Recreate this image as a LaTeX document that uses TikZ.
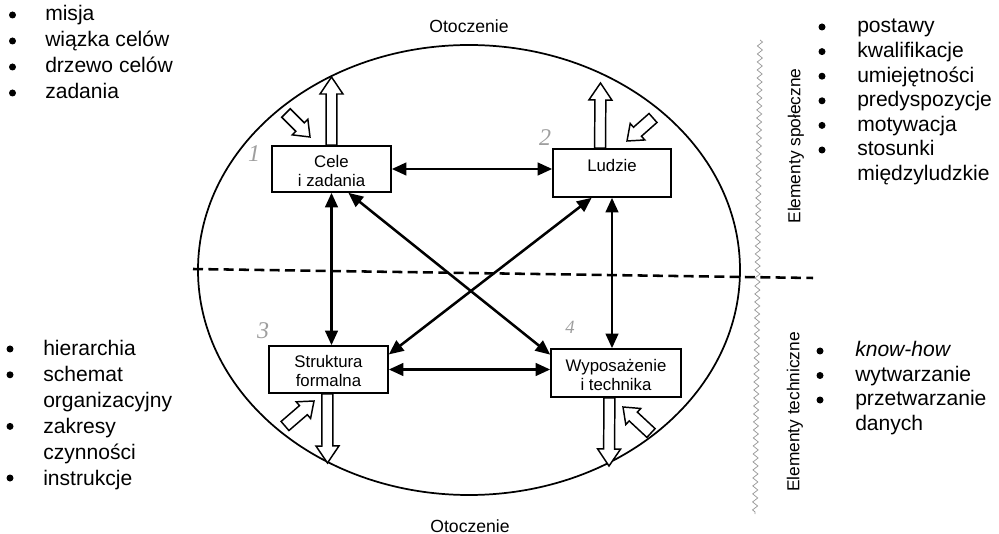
\documentclass[tikz,border=0pt]{standalone}
\usepackage{fontspec}
\setmainfont{Liberation Sans}
\newfontfamily\handfont{Liberation Serif}
\usetikzlibrary{arrows.meta,calc,decorations.pathmorphing}

% raises the first line of a box label a little
\newcommand\topstrut{\rule{0pt}{12pt}}

\tikzset{
  box/.style={draw, line width=1.2pt, inner sep=0pt, align=center,
    font=\fontsize{12.6}{14.3}\selectfont},
  link/.style={line width=1.9pt,
    {Triangle[length=11pt,width=9.5pt]}-{Triangle[length=11pt,width=9.5pt]}},
  blockarr/.style={draw, line width=1.1pt, fill=white, line join=miter},
  item/.style={anchor=base west, inner sep=0pt, font=\fontsize{15.8}{19}\selectfont},
  side/.style={rotate=90, inner sep=0pt, font=\fontsize{13}{15}\selectfont},
  env/.style={anchor=base, inner sep=0pt, font=\fontsize{13.2}{15}\selectfont},
  hand/.style={text=black!38, inner sep=0pt, font=\handfont\itshape\fontsize{18}{18}\selectfont},
  divider/.style={line width=1.9pt, dash pattern=on 7.5pt off 4pt},
  border/.style={black!40, line width=0.55pt, decorate,
    decoration={zigzag, segment length=6pt, amplitude=1.9pt}}
}

% hollow block arrow: #1 tail, #2 tip, #3 shaft half-width, #4 head half-width, #5 head length
\newcommand\blockarrow[5]{%
  \path ($(#2)!#5!(#1)$) coordinate (ba-h);
  \draw[blockarr] ($(#1)!#3!90:(#2)$) -- ($(ba-h)!#3!90:(#2)$) -- ($(ba-h)!#4!90:(#2)$)
    -- (#2) -- ($(ba-h)!#4!-90:(#2)$) -- ($(ba-h)!#3!-90:(#2)$) -- ($(#1)!#3!-90:(#2)$) -- cycle;
}

\begin{document}
\begin{tikzpicture}[x=0.75pt,y=-0.75pt]
\useasboundingbox (0,0) rectangle (999,534);

% environment of the organisation
\draw[line width=1.3pt] (469,270) ellipse [x radius=271, y radius=225];
\node[env] (env-top) at (469,33) {Otoczenie};
\node[env] (env-bot) at (470,532) {Otoczenie};

% social / technical split
\coordinate (div-l) at (193,269);
\coordinate (div-r) at (813,278);
\draw[divider] (div-l) -- (div-r);
\coordinate (zz-t) at (760,40);
\coordinate (zz-b) at (755,514);
\draw[border] (zz-t) -- (zz-b);

% the four components
\node[box, minimum width=89.25pt, minimum height=34.5pt] (cele) at (331.5,169) {\topstrut Cele\\i zadania};
\node[box, minimum width=88.5pt, minimum height=36pt] (ludzie) at (612,173) {\topstrut Ludzie\\\mbox{}};
\node[box, minimum width=89.25pt, minimum height=35.25pt] (struktura) at (328.5,369.5) {\topstrut Struktura\\formalna};
\node[box, minimum width=97.5pt, minimum height=36pt] (wypos) at (616,373) {\topstrut Wyposażenie\\i technika};

% mutual relations
\draw[link] (cele.east) -- (cele.east -| ludzie.west);
\draw[link] (struktura.east) -- (struktura.east -| wypos.west);
\draw[link] (cele.south) -- (cele.south |- struktura.north);
\draw[link] (ludzie.south) -- (ludzie.south |- wypos.north);
\draw[link] ($(cele.south west)!0.64!(cele.south east)$) -- ($(wypos.north west)!0.13!(wypos.south west)$);
\draw[link] ($(ludzie.south west)!0.33!(ludzie.south east)$) -- ($(struktura.north east)!0.19!(struktura.south east)$);

% exchange with the environment: outputs
\coordinate (cele-out) at (331.5,77);
\blockarrow{cele.north}{cele-out}{4.1pt}{8.6pt}{12.75pt}
\coordinate (ludzie-base) at ($(ludzie.north west)!0.4!(ludzie.north east)$);
\coordinate (ludzie-out) at (600.5,83);
\blockarrow{ludzie-base}{ludzie-out}{4.1pt}{8.6pt}{12.75pt}
\coordinate (struktura-base) at ($(struktura.south west)!0.49!(struktura.south east)$);
\coordinate (struktura-out) at (327.5,463);
\blockarrow{struktura-base}{struktura-out}{4.1pt}{8.6pt}{12.75pt}
\coordinate (wypos-base) at ($(wypos.south west)!0.45!(wypos.south east)$);
\coordinate (wypos-out) at (609,466);
\blockarrow{wypos-base}{wypos-out}{4.1pt}{8.6pt}{12.75pt}

% inputs
\coordinate (cele-in-a) at (286,113);   \coordinate (cele-in-b) at (310,137);
\coordinate (ludzie-in-a) at (653,118); \coordinate (ludzie-in-b) at (627,141);
\coordinate (str-in-a) at (285,426);    \coordinate (str-in-b) at (314,401);
\coordinate (wyp-in-a) at (651,433);    \coordinate (wyp-in-b) at (623,407);
\blockarrow{cele-in-a}{cele-in-b}{4.5pt}{8.25pt}{10.5pt}
\blockarrow{ludzie-in-a}{ludzie-in-b}{4.5pt}{8.25pt}{10.5pt}
\blockarrow{str-in-a}{str-in-b}{4.5pt}{8.25pt}{10.5pt}
\blockarrow{wyp-in-a}{wyp-in-b}{4.5pt}{8.25pt}{10.5pt}

% pencil numbering
\node[hand] (n1) at (254,154) {1};
\node[hand] (n2) at (545,138) {2};
\node[hand] (n3) at (263,331) {3};
\node[hand, font=\handfont\itshape\fontsize{14}{14}\selectfont] (n4) at (570,327) {4};

% goals
\foreach \y in {15,41,67,93} \fill (12.5,\y) circle[radius=3.5];
\node[item] (g1) at (45,21) {misja};
\node[item] (g2) at (45,47) {wiązka celów};
\node[item] (g3) at (45,73) {drzewo celów};
\node[item] (g4) at (45,99) {zadania};

% people
\foreach \y in {27,51.6,76.2,100.8,125.4,150} \fill (822,\y) circle[radius=3.5];
\node[item] (p1) at (857,33) {postawy};
\node[item] (p2) at (857,57.6) {kwalifikacje};
\node[item] (p3) at (857,82.2) {umiejętności};
\node[item] (p4) at (857,106.8) {predyspozycje};
\node[item] (p5) at (857,131.4) {motywacja};
\node[item] (p6) at (857,156) {stosunki};
\node[item] (p7) at (857,180.6) {międzyludzkie};

% structure
\foreach \y in {349,374.8,426.4,478} \fill (10,\y) circle[radius=3.5];
\node[item] (s1) at (43,356) {hierarchia};
\node[item] (s2) at (43,381.8) {schemat};
\node[item] (s3) at (43,407.6) {organizacyjny};
\node[item] (s4) at (43,433.4) {zakresy};
\node[item] (s5) at (43,459.2) {czynności};
\node[item] (s6) at (43,485) {instrukcje};

% technology
\foreach \y in {351,375.5,400} \fill (820,\y) circle[radius=3.5];
\node[item] (t1) at (855,357) {\textit{know-how}};
\node[item] (t2) at (855,381.5) {wytwarzanie};
\node[item] (t3) at (855,406) {przetwarzanie};
\node[item] (t4) at (855,430.5) {danych};

% side captions
\node[side] (soc) at (796,146) {Elementy społeczne};
\node[side] (tech) at (795,412) {Elementy techniczne};
\end{tikzpicture}
\end{document}
